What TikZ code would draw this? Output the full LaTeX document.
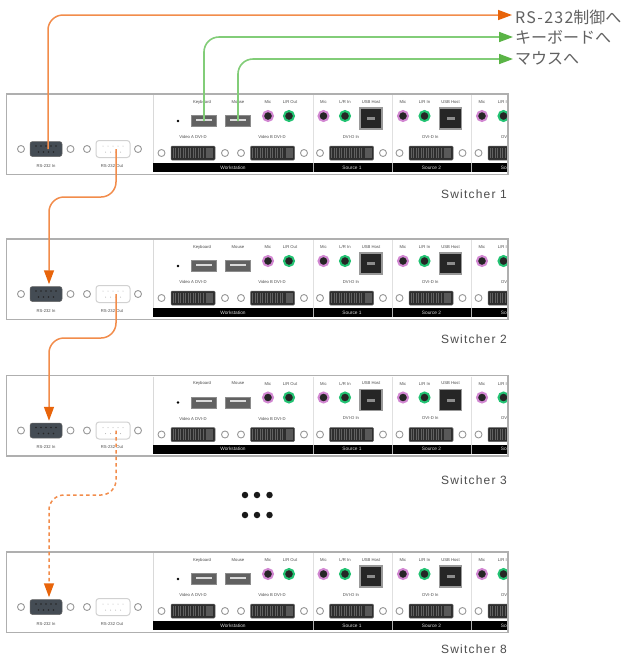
\documentclass[tikz,border=0pt]{standalone}
\usepackage{fontspec}
\setmainfont{Liberation Sans}
\newfontfamily\cjkjp{Noto Sans CJK JP}
\newfontfamily\cjkwide[LetterSpace=8]{Noto Sans CJK JP}
\newfontfamily\spaced[LetterSpace=10]{Liberation Sans}
\usetikzlibrary{arrows.meta}
\definecolor{orangeline}{RGB}{242,140,75}
\definecolor{orangetip}{RGB}{232,100,10}
\definecolor{greenline}{RGB}{130,205,120}
\definecolor{greentip}{RGB}{90,180,70}
\definecolor{panelline}{RGB}{175,175,175}
\definecolor{dbgray}{RGB}{68,76,84}
\definecolor{jackpurple}{RGB}{210,135,210}
\definecolor{jackgreen}{RGB}{35,195,115}
\tikzset{
  hole/.style={circle,draw=black!40,fill=white,line width=.9pt,minimum size=7pt,inner sep=0pt},
  dbin/.style={rectangle,rounded corners=2.5pt,fill=dbgray,draw=black!60,line width=.5pt,minimum width=32pt,minimum height=15pt,inner sep=0pt},
  dbout/.style={rectangle,rounded corners=3pt,fill=white,draw=black!18,line width=1pt,minimum width=34pt,minimum height=17pt,inner sep=0pt},
  usba/.style={rectangle,fill=black!62,draw=black!45,line width=.5pt,minimum width=25pt,minimum height=11pt,inner sep=0pt},
  usbb/.style={rectangle,fill=black!85,draw=black!40,line width=1.2pt,minimum width=22pt,minimum height=21pt,inner sep=0pt},
  dvi/.style={rectangle,rounded corners=1pt,fill=black!82,draw=black!60,line width=.5pt,minimum width=44pt,minimum height=14pt,inner sep=0pt},
  jackp/.style={circle,fill=black!85,draw=jackpurple,line width=2pt,minimum size=10pt,inner sep=0pt},
  jackg/.style={circle,fill=black!85,draw=jackgreen,line width=2pt,minimum size=10pt,inner sep=0pt},
  tinytext/.style={inner sep=0pt,text=black!70,font=\fontsize{4.2}{5}\selectfont},
  bartext/.style={inner sep=0pt,text=white!85!black,font=\fontsize{4.8}{5}\selectfont},
  swlabel/.style={inner sep=0pt,anchor=east,text=black!70,font=\spaced\fontsize{12}{14}\selectfont},
  toplabel/.style={inner sep=0pt,anchor=west,text=black!62,font=\cjkjp\fontsize{16}{18}\selectfont},
  dotmark/.style={circle,fill=black!90,minimum size=6.5pt,inner sep=0pt},
  orangelink/.style={draw=orangeline,line width=1.5pt,rounded corners=15pt,-{Triangle[length=14pt,width=10pt,fill=orangetip,color=orangetip]}},
  greenlink/.style={draw=greenline,line width=1.6pt,rounded corners=15pt,-{Triangle[length=14pt,width=10pt,fill=greentip,color=greentip]}}
}
\newcommand{\dvidetail}[1]{%
  \foreach \k in {2,4.5,...,32}{\draw[black!62,line width=.35pt] ([xshift=\k pt,yshift=-2pt]#1.north west)--([xshift=\k pt,yshift=2pt]#1.south west);}
  \fill[black!65] ([xshift=-9pt,yshift=-2pt]#1.north east) rectangle ([xshift=-2pt,yshift=2pt]#1.south east);}
\newcommand{\dbpins}[3]{% node, colour, size
  \foreach \k in {-10,-5,...,10}{\fill[#2] ([xshift=\k pt,yshift=3pt]#1.center) circle (#3pt);}
  \foreach \k in {-7.5,-2.5,...,7.5}{\fill[#2] ([xshift=\k pt,yshift=-3pt]#1.center) circle (#3pt);}}
\newcommand{\sourceblock}[4]{% panel id, source id, x offset, second label
  \begin{scope}[xshift=#3pt]
    \node[jackp] (j#1#2a) at (323.5,22) {};
    \node[jackg] (j#1#2b) at (345,22) {};
    \node[usbb] (u#1#2) at (371,24.5) {};
    \fill[black!45] (u#1#2.center) ++(-4,-1.5) rectangle ++(8,3);
    \node[tinytext] (ta#1#2) at (323.5,8) {Mic};
    \node[tinytext] (tb#1#2) at (345,8) {L/R In};
    \node[tinytext] (tc#1#2) at (371,8) {USB Host};
    \node[tinytext] (td#1#2) at (351,43) {DVI-D In};
    \node[hole] (ha#1#2) at (320,59) {};
    \node[dvi] (d#1#2) at (351.5,59) {};
    \dvidetail{d#1#2}
    \node[hole] (hb#1#2) at (383,59) {};
    \draw[black!12,line width=.6pt] (313,1)--(313,69);
    \draw[white!70!black,line width=.5pt] (313,69)--(313,78);
    \node[bartext] (tx#1#2) at (352,73.5) {#4};
  \end{scope}}
\newcommand{\switcher}[2]{%
  \begin{scope}[yshift=-#2pt]
    \fill[white] (6.5,0) rectangle (508,80.5);
    \draw[black!15,line width=.6pt] (153,1)--(153,69);
    \fill[black] (153,69) rectangle (508,78);
    % RS-232 block
    \node[hole] (ha#1) at (21,55) {};
    \node[dbin] (in#1) at (46,55) {};
    \dbpins{in#1}{black!85}{.9}
    \node[hole] (hb#1) at (70.5,55) {};
    \node[hole] (hc#1) at (87,55) {};
    \node[dbout] (out#1) at (113,55) {};
    \dbpins{out#1}{black!30}{.5}
    \node[hole] (hd#1) at (138,55) {};
    \node[tinytext] (ti#1) at (46,72) {RS-232 In};
    \node[tinytext] (to#1) at (112,72) {RS-232 Out};
    % Workstation block
    \node[tinytext] (tk#1) at (202,8) {Keyboard};
    \node[tinytext] (tm#1) at (238,8) {Mouse};
    \node[tinytext] (tn#1) at (268,8) {Mic};
    \node[tinytext] (tp#1) at (290,8) {L/R Out};
    \fill[black] (178,27) circle (1.3);
    \node[usba] (kb#1) at (204,27) {};
    \fill[black!15] (kb#1.center) ++(-8,-2.5) rectangle ++(16,2);
    \node[usba] (ms#1) at (238,27) {};
    \fill[black!15] (ms#1.center) ++(-8,-2.5) rectangle ++(16,2);
    \node[jackp] (jm#1) at (268,22) {};
    \node[jackg] (jl#1) at (289,22) {};
    \node[tinytext] (tv#1) at (193,43) {Video A DVI-D};
    \node[tinytext] (tw#1) at (272,43) {Video B DVI-D};
    \node[hole] (he#1) at (161.5,59) {};
    \node[dvi] (da#1) at (193,59) {};
    \dvidetail{da#1}
    \node[hole] (hf#1) at (225,59) {};
    \node[hole] (hg#1) at (241,59) {};
    \node[dvi] (db#1) at (272.5,59) {};
    \dvidetail{db#1}
    \node[hole] (hh#1) at (304,59) {};
    \node[bartext] (tz#1) at (233,73.5) {Workstation};
    \sourceblock{#1}{s}{0}{Source 1}
    \sourceblock{#1}{t}{79.5}{Source 2}
    \begin{scope}
      \clip (153,0) rectangle (508,80);
      \sourceblock{#1}{r}{158.5}{Source 3}
    \end{scope}
    \draw[panelline,line width=1.3pt] (6.5,0) rectangle (508,80.5);
  \end{scope}}
\begin{document}
\begin{tikzpicture}[x=1pt,y=-1pt]
\useasboundingbox (0,0) rectangle (624,657);
\fill[white] (0,0) rectangle (624,657);
\switcher{a}{94}
\switcher{b}{239}
\switcher{c}{375.5}
\switcher{d}{552}
\node[swlabel] (sa) at (507,194) {Switcher 1};
\node[swlabel] (sb) at (507,339) {Switcher 2};
\node[swlabel] (sc) at (507,480) {Switcher 3};
\node[swlabel] (sd) at (507,649) {Switcher 8};
\node[toplabel] (lrs) at (515,17) {{\cjkwide RS-232}制御へ};
\node[toplabel] (lkb) at (515,37) {キーボードへ};
\node[toplabel] (lms) at (515,58.5) {マウスへ};
\coordinate (ers) at (512,15);
\coordinate (ekb) at (513,37);
\coordinate (ems) at (513,59);
\draw[orangelink] ([xshift=2pt]ina.center) |- (ers);
\draw[greenlink] (kba.center) |- (ekb);
\draw[greenlink] (msa.center) |- (ems);
\coordinate (ma) at (80,197);
\coordinate (mb) at (80,338);
\coordinate (mc) at (80,495);
\draw[orangelink] ([xshift=3pt]outa.center) |- (ma) -| ([xshift=3pt,yshift=2pt]inb.north);
\draw[orangelink] ([xshift=3pt]outb.center) |- (mb) -| ([xshift=3pt,yshift=2pt]inc.north);
\draw[orangelink,dash pattern=on 3.5pt off 3pt] ([xshift=3pt]outc.center) |- (mc) -| ([xshift=3pt,yshift=2pt]ind.north);
\foreach \px/\py [count=\n] in {245/495,257/495,269.5/495,245/515,257/515,269.5/515}{
  \node[dotmark] (dot\n) at (\px,\py) {};
}
\end{tikzpicture}
\end{document}
